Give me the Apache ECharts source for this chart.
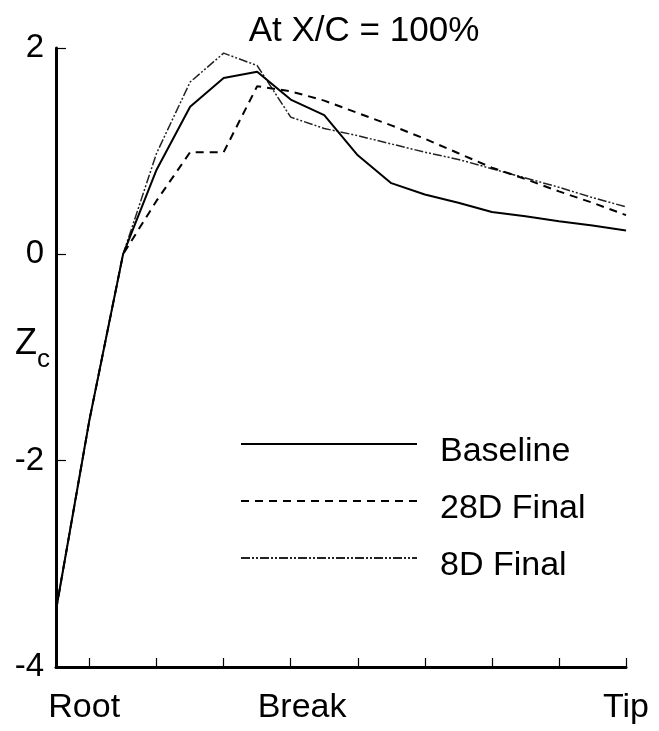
<!DOCTYPE html>
<html>
<head>
<meta charset="utf-8">
<script src="https://cdn.jsdelivr.net/npm/echarts@6/dist/echarts.min.js"></script>
<style>
html,body{margin:0;padding:0;background:#fff;}
#chart{width:659px;height:731px;}
</style>
</head>
<body>
<div id="chart"></div>
<script>
// Span stations (half-tick steps from Root to Tip)
var spanStations = [0, 0.5, 1, 1.5, 2, 2.5, 3, 3.5, 4, 4.5, 5, 5.5, 6, 6.5, 7, 7.5, 8, 8.5];
var baseline = [-3.45, -1.6, 0.0, 0.82, 1.43, 1.71, 1.77, 1.50, 1.35, 0.96, 0.69, 0.58, 0.50, 0.41, 0.37, 0.32, 0.28, 0.23];
var final28D = [-3.45, -1.6, 0.0, 0.52, 0.99, 0.99, 1.63, 1.58, 1.49, 1.37, 1.25, 1.12, 0.98, 0.84, 0.73, 0.61, 0.50, 0.38];
var final8D  = [-3.45, -1.6, 0.0, 0.98, 1.67, 1.95, 1.83, 1.33, 1.22, 1.15, 1.07, 0.99, 0.92, 0.83, 0.74, 0.65, 0.55, 0.46];
var seriesNames = ['Baseline', '28D Final', '8D Final'];
var xTickValues = [0.5, 1.5, 2.5, 3.5, 4.5, 5.5, 6.5, 7.5, 8.5];
var stationLabels = ['Root', 'Break', 'Tip'];
var stationLabelPos = [0.42, 3.67, 8.5];
var yTicks = [-4, -2, 0, 2];
var titleText = 'At X/C = 100%';

function pairs(ys){ return spanStations.map(function(x,i){ return [x, ys[i]]; }); }

var chart = echarts.init(document.getElementById('chart'), null, {renderer:'canvas'});
var FONT = 'Liberation Sans, Arial, Helvetica, sans-serif';
chart.setOption({
  animation: false,
  backgroundColor: '#ffffff',
  title: {
    text: titleText,
    left: 359, textAlign: 'center', top: 9,
    textStyle: {fontFamily: FONT, fontSize: 35, fontWeight: 'normal', color: '#000'}
  },
  legend: {
    orient: 'vertical',
    left: 235, top: 414,
    itemWidth: 176, itemHeight: 16, itemGap: 7,
    itemStyle: {opacity: 0},
    formatter: '{t|{name}}',
    textStyle: {
      fontFamily: FONT, fontSize: 34, color: '#000',
      rich: {t: {fontFamily: FONT, fontSize: 34, color: '#000', padding: [16, 0, 0, 18], lineHeight: 34}}
    },
    data: seriesNames
  },
  grid: {left: 56, right: 33, top: 48, bottom: 64, containLabel: false, outerBoundsMode: 'none'},
  xAxis: {
    type: 'value', min: 0, max: 8.5,
    axisLine: {show: true, onZero: false, lineStyle: {color: '#000', width: 3}},
    axisTick: {show: true, inside: true, length: 9, customValues: xTickValues, lineStyle: {color: '#000', width: 1.2}},
    axisLabel: {
      show: true, customValues: stationLabelPos, margin: 24,
      fontFamily: FONT, fontSize: 34, color: '#000',
      formatter: function(v){
        var best = 0, d = 1e9;
        stationLabelPos.forEach(function(p,i){ if (Math.abs(p-v) < d){ d = Math.abs(p-v); best = i; } });
        return stationLabels[best];
      }
    },
    splitLine: {show: false}
  },
  yAxis: {
    type: 'value', min: -4, max: 2, interval: 2,
    name: '{z|Z}{c|c}', nameLocation: 'middle', nameRotate: 0, nameGap: 6, nameMoveOverlap: false,
    nameTextStyle: {
      align: 'right',
      padding: [0, 0, 26, 0],
      rich: {
        z: {fontFamily: FONT, fontSize: 36, color: '#000', verticalAlign: 'bottom'},
        c: {fontFamily: FONT, fontSize: 26, color: '#000', verticalAlign: 'bottom', padding: [0,0,-10,0]}
      }
    },
    axisLine: {show: true, onZero: false, lineStyle: {color: '#000', width: 3}},
    axisTick: {show: true, inside: true, length: 10, lineStyle: {color: '#000', width: 1.2}},
    axisLabel: {fontFamily: FONT, fontSize: 33, color: '#000', margin: 12},
    splitLine: {show: false}
  },
  series: [
    {name: seriesNames[0], type: 'line', data: pairs(baseline), symbol: 'none',
     lineStyle: {color: '#000', width: 2, type: 'solid'}, itemStyle: {color: '#000'}, z: 3},
    {name: seriesNames[1], type: 'line', data: pairs(final28D), symbol: 'none',
     lineStyle: {color: '#000', width: 2, type: [8, 6]}, itemStyle: {color: '#000'}, z: 2},
    {name: seriesNames[2], type: 'line', data: pairs(final8D), symbol: 'none',
     lineStyle: {color: '#222', width: 1.5, type: [9, 2, 2, 2, 2, 2]}, itemStyle: {color: '#222'}, z: 1}
  ]
});
</script>
</body>
</html>
